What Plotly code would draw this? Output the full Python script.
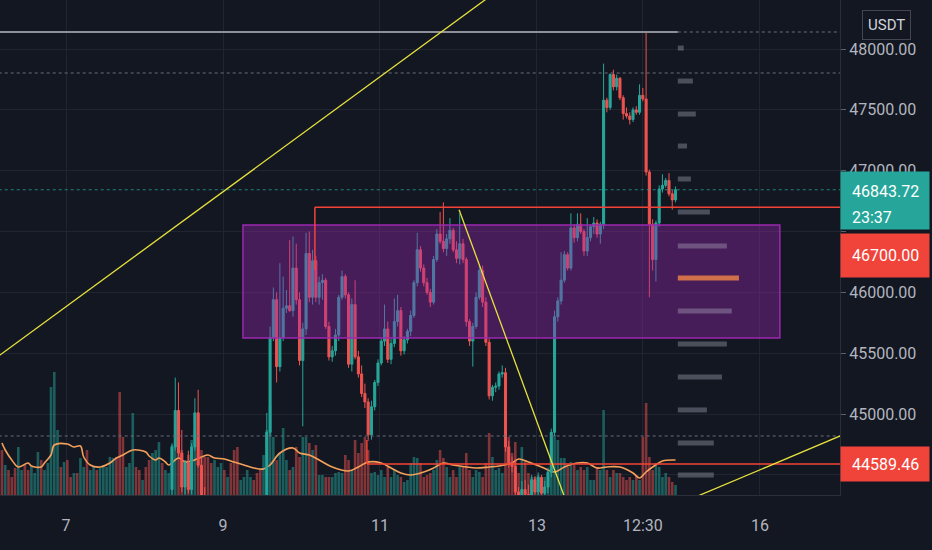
import plotly.graph_objects as go

# hourly bars, bar index on the x axis; candles are only drawn from bar 52 on
candle_start = 52

opens = [44380, 44730, 45030, 44680, 44400, 44600, 44380, 44730, 45010, 44580,
         44330, 44250, 44100, 44020, 44150, 44220, 44260, 44130, 44180, 44080,
         43980, 43900, 43960, 44030, 44100, 44160, 44120, 44060, 44010, 44200,
         44850, 45630, 45940, 45390, 45630, 45870, 45890, 45850, 46200, 45940,
         45440, 45700, 46320, 45960, 46260, 45960, 46080, 46100, 45720, 45470,
         45520, 45650, 45960, 46130, 45980, 45410, 45900, 45470, 45330, 45170,
         45100, 44830, 45060, 45260, 45420, 45600, 45700, 45450, 45580, 45760,
         45850, 45520, 45610, 45680, 45810, 46080, 46350, 46200, 46080, 46000,
         45920, 46270, 46480, 46420, 46360, 46440, 46510, 46350, 46280, 46400,
         46270, 45760, 45600, 45720, 45960, 46180, 45920, 45590, 45150, 45220,
         45230, 45330, 45340, 44730, 44600, 44570, 44360, 44250, 44380, 44340,
         44300, 44460, 44360, 44480, 44350, 44400, 44520, 44850, 45800, 45930,
         46100, 46310, 46200, 46530, 46450, 46560, 46500, 46340, 46450, 46540,
         46570, 46480, 46560, 47580, 47520, 47790, 47690, 47760, 47600, 47470,
         47450, 47420, 47500, 47480, 47620, 47590, 46990, 46560, 46270, 46570,
         46850, 46880, 46920, 46810, 46760]
highs = [44760, 45300, 45260, 44870, 44620, 44700, 44760, 45130, 45200, 44650,
         44400, 44300, 44150, 44180, 44260, 44300, 44280, 44230, 44200, 44100,
         44000, 44000, 44060, 44130, 44200, 44190, 44140, 44080, 44230, 45010,
         45720, 46040, 46000, 46240, 46130, 46020, 46430, 46460, 46400, 46000,
         45750, 46490, 46500, 46350, 46300, 46130, 46150, 46120, 45760, 45560,
         45700, 45980, 46180, 46150, 46000, 45950, 46100, 45520, 45400, 45250,
         45130, 45110, 45280, 45450, 45620, 45900, 45760, 45620, 45950, 45980,
         45880, 45640, 45700, 45850, 46100, 46490, 46380, 46230, 46120, 46030,
         46300, 46520, 46660, 46740, 46480, 46610, 46530, 46420, 46650, 46440,
         46290, 45780, 45750, 46000, 46230, 46220, 45960, 45620, 45240, 45260,
         45350, 45400, 45380, 44780, 44650, 44620, 44400, 44450, 44460, 44420,
         44500, 44490, 44520, 44500, 44450, 44560, 44880, 45850, 45960, 46330,
         46340, 46330, 46650, 46560, 46650, 46650, 46520, 46610, 46560, 46620,
         46600, 46580, 47880, 47600, 47800, 47830, 47790, 47770, 47620, 47520,
         47480, 47520, 47530, 47710, 47680, 48140, 47010, 46600, 46590, 46880,
         46970, 46940, 46980, 46840, 46870]
lows = [44340, 44700, 44650, 44360, 44340, 44350, 44340, 44700, 44560, 44300,
        44200, 44060, 43980, 44000, 44120, 44190, 44100, 44100, 44050, 43950,
        43850, 43880, 43940, 44000, 44080, 44090, 44030, 43970, 43990, 44150,
        44820, 45600, 45260, 45350, 45600, 45830, 45840, 45800, 45900, 45400,
        44900, 45650, 45920, 45900, 45920, 45900, 45940, 45700, 45440, 45430,
        45480, 45600, 45940, 45950, 45380, 45350, 45450, 45300, 45140, 45050,
        44780, 44790, 45030, 45230, 45400, 45560, 45420, 45410, 45550, 45720,
        45480, 45490, 45580, 45640, 45790, 46050, 46170, 46050, 45980, 45880,
        45900, 46250, 46400, 46330, 46300, 46400, 46330, 46240, 46230, 46240,
        45720, 45560, 45390, 45700, 45940, 45880, 45560, 45120, 45110, 45180,
        45200, 45300, 44690, 44560, 44520, 44330, 44200, 44150, 44300, 44200,
        44250, 44340, 44300, 44330, 44200, 44350, 44480, 44820, 45760, 45900,
        46080, 46180, 46180, 46410, 46420, 46480, 46300, 46300, 46420, 46480,
        46450, 46400, 46520, 47480, 47500, 47660, 47660, 47580, 47420, 47430,
        47380, 47400, 47460, 47460, 47570, 46960, 45960, 46180, 46090, 46540,
        46820, 46860, 46790, 46680, 46740]
closes = [44730, 45030, 44680, 44400, 44600, 44380, 44730, 45010, 44580, 44330,
          44250, 44100, 44020, 44150, 44220, 44260, 44130, 44180, 44080, 43980,
          43900, 43960, 44030, 44100, 44160, 44120, 44060, 44010, 44200, 44850,
          45630, 45940, 45390, 45630, 45870, 45890, 45850, 46200, 45940, 45440,
          45700, 46320, 45960, 46260, 45960, 46080, 46100, 45720, 45470, 45520,
          45650, 45960, 46130, 45980, 45410, 45900, 45470, 45330, 45170, 45100,
          44830, 45060, 45260, 45420, 45600, 45700, 45450, 45580, 45760, 45850,
          45520, 45610, 45680, 45810, 46080, 46350, 46200, 46080, 46000, 45920,
          46270, 46480, 46420, 46360, 46440, 46510, 46350, 46280, 46400, 46270,
          45760, 45600, 45720, 45960, 46180, 45920, 45590, 45150, 45220, 45230,
          45330, 45340, 44730, 44600, 44570, 44360, 44250, 44380, 44340, 44300,
          44460, 44360, 44480, 44350, 44400, 44520, 44850, 45800, 45930, 46100,
          46310, 46200, 46530, 46450, 46560, 46500, 46340, 46450, 46540, 46570,
          46480, 46560, 47580, 47520, 47790, 47690, 47760, 47600, 47470, 47450,
          47420, 47500, 47480, 47620, 47590, 46990, 46560, 46270, 46570, 46850,
          46880, 46920, 46810, 46760, 46843.72]

volumes = [2250, 1500, 1250, 900, 1350, 2400, 1250, 1500, 1250, 1400,
           1100, 2150, 1750, 1250, 1600, 5400, 6150, 3250, 1400, 1650,
           1750, 900, 1100, 1100, 1850, 1400, 2250, 1250, 1400, 1250,
           1350, 1500, 1400, 1900, 1850, 1900, 5150, 2900, 1400, 1600,
           4100, 1400, 1250, 750, 1400, 1750, 2100, 2250, 2650, 1600,
           1250, 1100, 2500, 3500, 2750, 2250, 1750, 2000, 2750, 3250,
           3000, 2250, 1900, 1900, 1600, 1750, 1400, 1600, 1250, 900,
           1600, 2250, 2400, 750, 900, 1250, 900, 750, 1100, 1250,
           2000, 3250, 4500, 2900, 1750, 2100, 3350, 1750, 1250, 1400,
           2400, 1900, 2900, 2900, 2600, 2250, 2500, 1000, 1000, 900,
           900, 900, 1100, 1150, 1100, 2000, 1750, 1250, 2750, 2100,
           2600, 2900, 2250, 1100, 1150, 1000, 1250, 900, 1400, 900,
           1250, 1000, 900, 650, 750, 1600, 1900, 1850, 1600, 900,
           1000, 1100, 1250, 1750, 2250, 1850, 1400, 900, 1250, 900,
           1400, 1400, 2100, 1250, 900, 1250, 1150, 900, 1600, 3100,
           1900, 1250, 1350, 1100, 2400, 2900, 2100, 2650, 1100, 2400,
           1750, 1100, 900, 900, 1000, 600, 900, 1250, 2750, 3000,
           2750, 1850, 1850, 1400, 1650, 1500, 1250, 1400, 1250, 1400,
           750, 750, 1400, 1250, 4250, 1250, 900, 1250, 1100, 1100,
           900, 750, 900, 750, 1000, 750, 2900, 4600, 1900, 1250,
           1600, 1400, 900, 1100, 900, 650, 500]
# up/down colour of the volume bars that come before the first candle
pre_dirs = "duddduuddu" "uuduuuuudu" "dduduuduud" "uuuuuddduu" "uddudduuud" "uu"

vol_ma_x = [0, 1, 3, 5, 8, 9, 12, 13, 15, 16, 20, 22, 24, 25, 27, 30, 33, 35, 37, 40,
            44, 45, 47, 48, 50, 51, 54, 56, 58, 61, 63, 65, 68, 71, 74, 77, 80, 82, 85, 89,
            91, 94, 97, 101, 106, 109, 112, 116, 119, 122, 125, 129, 132, 135, 138, 142,
            145, 149, 152, 156, 158, 161, 165, 169, 172, 176, 179, 182, 185, 189, 193,
            195, 197, 199, 202, 206]
vol_ma = [2600, 2250, 1750, 1400, 1600, 1450, 1400, 1600, 2000, 2500,
          2550, 2400, 2450, 1900, 1500, 1400, 1600, 1850, 2000, 2250,
          2150, 1950, 1750, 1850, 1650, 1500, 1850, 1650, 1700, 1900,
          2000, 1850, 1800, 1650, 1500, 1350, 1300, 1500, 2100, 2350,
          2100, 2000, 1750, 1400, 1200, 1400, 1650, 1600, 1350, 1100,
          1000, 1150, 1350, 1600, 1500, 1400, 1350, 1400, 1450, 1600,
          1800, 1650, 1400, 1150, 1400, 1600, 1600, 1350, 1400, 1400,
          1100, 850, 1150, 1400, 1700, 1750]

tick_pos = [19.6, 67.6, 115.6, 163.6, 196.0, 231.8]
tick_text = ["7", "9", "11", "13", "12:30", "16"]
price_ticks = [44500, 45000, 45500, 46000, 46500, 47000, 47500, 48000]

# drawings
zone_x = [73.7, 237.9]
zone_y = [45625, 46554]
trend_x = [[-5, 160], [139.8, 174], [210, 265]]
trend_y = [[45399, 48645], [46680, 44176], [44295, 44918]]
ray_start = [95.7, 111.6]
ray_level = [46700, 44589.46]
ray_drop = [46184, 44787]
high_level = 48140
dotted_levels = [47803, 44820]
profile_start = 206.7
profile_prices = [48008, 47737, 47466, 47203, 46932, 46661, 46381, 46118, 45847,
                  45576, 45305, 45034, 44763, 44500]
profile_lens = [1.8, 4.6, 5.5, 2.8, 4.0, 9.8, 15.0, 18.7, 16.5, 15.0, 13.5, 8.9, 11.0, 11.0]

UP = "#26a69a"
DOWN = "#ef5350"
LABEL_RED = "#f0433a"

n_bars = len(volumes)
candle_x = list(range(candle_start, candle_start + len(closes)))
vol_dirs = list(pre_dirs) + ["u" if c >= o else "d" for o, c in zip(opens, closes)]
vol_colors = ["rgba(38,166,154,0.5)" if d == "u" else "rgba(239,83,80,0.5)" for d in vol_dirs]

fig = go.Figure()

fig.add_trace(go.Bar(x=list(range(n_bars)), y=volumes, marker_color=vol_colors,
                     marker_line_width=0, width=0.8, yaxis="y"))
fig.add_trace(go.Scatter(x=vol_ma_x, y=vol_ma, mode="lines", yaxis="y",
                         line=dict(color="#f5a05a", width=1.6, shape="spline")))
fig.add_trace(go.Candlestick(
    x=candle_x, open=opens, high=highs, low=lows, close=closes, yaxis="y2",
    increasing=dict(line=dict(color=UP, width=1), fillcolor=UP),
    decreasing=dict(line=dict(color=DOWN, width=1), fillcolor=DOWN),
    whiskerwidth=0,
))

shapes = []
shapes.append(dict(type="rect", xref="x", yref="y2", x0=zone_x[0], x1=zone_x[1],
                   y0=zone_y[0], y1=zone_y[1], fillcolor="rgba(156,39,176,0.38)",
                   line=dict(color="#9c27b0", width=1.5)))
for k, (p, ln) in enumerate(zip(profile_prices, profile_lens)):
    col = "rgba(255,140,70,0.75)" if k == 7 else "rgba(190,195,210,0.33)"
    shapes.append(dict(type="line", xref="x", yref="y2", x0=profile_start,
                       x1=profile_start + ln, y0=p, y1=p, line=dict(color=col, width=5)))
shapes.append(dict(type="line", xref="x", yref="y2", x0=-1, x1=profile_start,
                   y0=high_level, y1=high_level, line=dict(color="#8d9099", width=2)))
shapes.append(dict(type="line", xref="x", yref="y2", x0=profile_start, x1=260,
                   y0=high_level, y1=high_level, line=dict(color="#6b6f7a", width=1, dash="dot")))
for lv in dotted_levels:
    shapes.append(dict(type="line", xref="x", yref="y2", x0=-1, x1=260, y0=lv, y1=lv,
                       line=dict(color="#6b6f7a", width=1, dash="dot")))
shapes.append(dict(type="line", xref="x", yref="y2", x0=-1, x1=260,
                   y0=closes[-1], y1=closes[-1],
                   line=dict(color="rgba(38,166,154,0.75)", width=1, dash="dot")))
for xs, lv, dp in zip(ray_start, ray_level, ray_drop):
    shapes.append(dict(type="line", xref="x", yref="y2", x0=xs, x1=260, y0=lv, y1=lv,
                       line=dict(color="#f44336", width=1.5)))
    shapes.append(dict(type="line", xref="x", yref="y2", x0=xs, x1=xs, y0=lv, y1=dp,
                       line=dict(color="#f44336", width=1.5)))
for xs, ys in zip(trend_x, trend_y):
    shapes.append(dict(type="line", xref="x", yref="y2", x0=xs[0], x1=xs[1],
                       y0=ys[0], y1=ys[1], line=dict(color="#e8e23c", width=1.3)))

# price label boxes on the right axis (annotations so they sit above the tick labels)
annotations = [
    dict(xref="paper", yref="paper", x=1, y=1, xanchor="center", yanchor="middle",
         xshift=46, yshift=-25, text="USDT", showarrow=False,
         font=dict(size=15, color="#d1d4dc"), bordercolor="#434651",
         borderwidth=1, borderpad=5, bgcolor="#131722"),
]
label_boxes = [(closes[-1], -11, 57, UP), (ray_level[0], -48, 43, LABEL_RED),
               (ray_level[1], 0, 34, LABEL_RED)]
for lv, shift, h, col in label_boxes:
    annotations.append(dict(xref="paper", yref="y2", x=1, y=lv, xanchor="left",
                            yanchor="middle", yshift=shift, text=" ", width=88, height=h,
                            bgcolor=col, borderpad=0, showarrow=False))
label_texts = [(closes[-1], -2, f"{closes[-1]:.2f}"), (closes[-1], -28, "23:37"),
               (ray_level[0], -48, f"{ray_level[0]:.2f}"),
               (ray_level[1], 0, f"{ray_level[1]:.2f}")]
for lv, shift, txt in label_texts:
    annotations.append(dict(xref="paper", yref="y2", x=1, y=lv, xanchor="left",
                            xshift=10, yshift=shift, text=txt, showarrow=False,
                            font=dict(size=16, color="#ffffff")))

# 46500 sits fully behind the price labels, so its tick text stays blank
price_tick_text = ["" if v == 46500 else f"{v:.2f}" for v in price_ticks]

fig.update_layout(
    width=932, height=550,
    margin=dict(l=0, r=92, t=0, b=55),
    paper_bgcolor="#131722", plot_bgcolor="#131722",
    showlegend=False,
    boxgap=0.1,
    hovermode=False,
    font=dict(family="Roboto, sans-serif", size=16, color="#b2b5be"),
    xaxis=dict(range=[-0.6, 256.3], tickvals=tick_pos, ticktext=tick_text,
               showgrid=True, gridcolor="#21252f", zeroline=False,
               showline=True, linecolor="#2a2e39", rangeslider=dict(visible=False),
               ticks="outside", ticklen=16, tickcolor="rgba(0,0,0,0)",
               tickfont=dict(size=16, color="#b2b5be")),
    yaxis=dict(range=[0, 24750], visible=False, fixedrange=True, showgrid=False),
    yaxis2=dict(overlaying="y", side="right", range=[44335, 48403], tickvals=price_ticks,
                ticktext=price_tick_text, showgrid=True, gridcolor="#21252f",
                zeroline=False, showline=True, linecolor="#2a2e39", ticks="outside",
                ticklen=5, tickcolor="#5d606b", tickfont=dict(size=16, color="#b2b5be")),
    shapes=shapes,
    annotations=annotations,
)

fig.write_html("out.html", config={"displayModeBar": False},
               post_script="document.body.style.margin = '0px'; document.body.style.overflow = 'hidden';")
